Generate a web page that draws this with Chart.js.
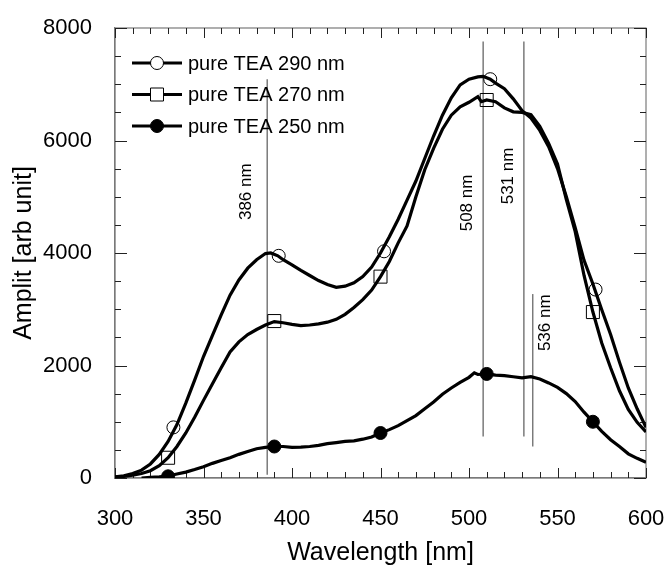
<!DOCTYPE html>
<html>
<head>
<meta charset="utf-8">
<script src="https://cdn.jsdelivr.net/npm/chart.js@4.4.1/dist/chart.umd.min.js"></script>
<style>
  html, body { margin: 0; padding: 0; background: #fff; }
  #wrap { width: 668px; height: 568px; }
</style>
</head>
<body>
<div id="wrap"><canvas id="chart" width="668" height="568"></canvas></div>
<script>
// Wavelengths (nm) and amplitudes
const wl290 = [300, 305, 310, 315, 320, 325, 330, 335, 340, 345, 350, 355, 360, 365, 370, 375, 380, 385, 388, 392,
    395, 400, 405, 410, 415, 420, 425, 430, 435, 440, 445, 450, 455, 460, 465, 470, 475, 480, 485, 490, 495, 500, 505,
    508, 512, 515, 520, 525, 530, 535, 540, 545, 550, 555, 560, 565, 570, 575, 580, 585, 590, 595, 600];
const amp290 = [20, 40, 80, 140, 250, 420, 650, 950, 1330, 1740, 2160, 2530, 2900, 3250, 3520, 3730, 3880, 3990, 4000, 3950,
    3880, 3790, 3690, 3600, 3510, 3440, 3390, 3410, 3470, 3580, 3750, 4000, 4290, 4600, 4940, 5280, 5680, 6080, 6450, 6760, 6990, 7090, 7130,
    7140, 7090, 7020, 6920, 6740, 6530, 6400, 6180, 5890, 5500, 5000, 4450, 3870, 3450, 2990, 2550, 2060, 1600, 1230, 900];

const wl270 = [300, 305, 310, 315, 320, 325, 330, 335, 340, 345, 350, 355, 360, 365, 370, 375, 380, 385, 390, 395,
    400, 405, 410, 415, 420, 425, 430, 435, 440, 445, 450, 455, 460, 465, 470, 475, 480, 485, 490, 495,
    500, 505, 507, 510, 515, 520, 525, 530, 535, 540, 545, 550, 555, 560, 565, 570, 575, 580, 585, 590, 595, 600];
const amp270 = [15, 30, 50, 80, 130, 220, 360, 560, 800, 1080, 1380, 1670, 1960, 2240, 2420, 2550, 2640, 2720, 2780, 2760,
    2730, 2710, 2720, 2740, 2770, 2820, 2910, 3030, 3170, 3340, 3580, 3850, 4180, 4480, 5000, 5480, 5860, 6200, 6450, 6600,
    6680, 6780, 6690, 6720, 6690, 6580, 6510, 6500, 6460, 6250, 5950, 5580, 4950, 4380, 3600, 2950, 2400, 1960, 1550, 1220, 990, 820];

const wl250 = [315, 320, 325, 330, 335, 340, 345, 350, 355, 360, 365, 370, 375, 380, 385, 390, 395, 400, 405, 410,
    415, 420, 425, 430, 435, 440, 445, 450, 455, 460, 465, 470, 475, 480, 485, 490, 495, 500, 503, 505,
    510, 515, 520, 525, 530, 535, 540, 545, 550, 555, 560, 565, 570, 575, 580, 585, 590, 595, 600];
const amp250 = [0, 10, 20, 35, 70, 105, 150, 200, 260, 310, 360, 420, 470, 520, 545, 560, 560, 545, 550, 560,
    580, 610, 630, 650, 660, 690, 730, 800, 860, 930, 1020, 1110, 1230, 1350, 1490, 1600, 1700, 1790, 1870, 1840,
    1850, 1830, 1820, 1800, 1780, 1800, 1760, 1690, 1610, 1500, 1360, 1170, 1000, 830, 680, 560, 430, 350, 280];

// Marker positions on each curve
const mark290X = [333, 392.5, 452, 512, 571.5];
const mark290Y = [900, 3950, 4030, 7090, 3350];
const mark270X = [330, 390, 450, 510, 570];
const mark270Y = [360, 2790, 3580, 6720, 2950];
const mark250X = [330, 390, 450, 510, 570];
const mark250Y = [30, 560, 800, 1850, 1000];

// Vertical peak marks
const peakNm = [386, 508, 531, 536];
const peakFrom = [60, 740, 740, 560];
const peakTo = [7090, 7760, 7760, 3270];
const peakLabels = ['386 nm', '508 nm', '531 nm', '536 nm'];

const seriesNames = ['pure TEA 290 nm', 'pure TEA 270 nm', 'pure TEA 250 nm'];
const xTicks = [300, 350, 400, 450, 500, 550, 600];
const yTicks = [0, 2000, 4000, 6000, 8000];

const FONT = '"Liberation Sans", Arial, sans-serif';

function pairs(xs, ys) {
    return xs.map((x, i) => ({ x: x, y: ys[i] }));
}

const curveStyle = {
    showLine: true, borderColor: '#000', borderWidth: 3.2, pointRadius: 0,
    tension: 0, fill: false, order: 2
};
const markerStyle = { showLine: false, borderColor: '#000', borderWidth: 1, order: 1 };

const datasets = [
    Object.assign({ label: seriesNames[0], data: pairs(wl290, amp290) }, curveStyle),
    Object.assign({ label: seriesNames[1], data: pairs(wl270, amp270) }, curveStyle),
    Object.assign({ label: seriesNames[2], data: pairs(wl250, amp250) }, curveStyle),
    Object.assign({ data: pairs(mark290X, mark290Y), pointStyle: 'circle', pointRadius: 6.5,
        backgroundColor: 'rgba(0,0,0,0)' }, markerStyle),
    Object.assign({ data: pairs(mark270X, mark270Y), pointStyle: 'rect', pointRadius: 9.2,
        backgroundColor: 'rgba(0,0,0,0)' }, markerStyle),
    Object.assign({ data: pairs(mark250X, mark250Y), pointStyle: 'circle', pointRadius: 6.5,
        backgroundColor: '#000' }, markerStyle)
];

peakNm.forEach((nm, i) => {
    datasets.push({
        data: [{ x: nm, y: peakFrom[i] }, { x: nm, y: peakTo[i] }],
        showLine: true, borderColor: '#7a7a7a', borderWidth: 1.5, pointRadius: 0, order: 3
    });
});

// frame on top/right plus inward tick marks on all four sides
const frameTicks = {
    id: 'frameTicks',
    beforeDatasetsDraw(chart) {
        const { ctx, chartArea: a, scales: { x, y } } = chart;
        ctx.save();
        ctx.strokeStyle = '#7a7a7a';
        ctx.lineWidth = 1.2;
        ctx.strokeRect(a.left, a.top, a.right - a.left, a.bottom - a.top);
        ctx.strokeStyle = '#222';
        ctx.lineWidth = 1;
        ctx.beginPath();
        for (let v = 300; v <= 600; v += 10) {
            const px = Math.round(x.getPixelForValue(v)) + 0.5;
            const len = v % 50 === 0 ? 10 : 6;
            ctx.moveTo(px, a.bottom); ctx.lineTo(px, a.bottom - len);
            ctx.moveTo(px, a.top); ctx.lineTo(px, a.top + len);
        }
        for (let v = 0; v <= 8000; v += 500) {
            const py = Math.round(y.getPixelForValue(v)) + 0.5;
            const len = v % 2000 === 0 ? 12 : 6;
            ctx.moveTo(a.left, py); ctx.lineTo(a.left + len, py);
            ctx.moveTo(a.right, py); ctx.lineTo(a.right - len, py);
        }
        ctx.stroke();
        ctx.restore();
    }
};

// rotated labels next to the peak lines
const peakText = {
    id: 'peakText',
    afterDatasetsDraw(chart, args, opts) {
        const { ctx, scales: { x, y } } = chart;
        ctx.save();
        ctx.fillStyle = '#000';
        ctx.font = '17px ' + FONT;
        ctx.textAlign = 'center';
        ctx.textBaseline = 'middle';
        peakLabels.forEach((txt, i) => {
            const px = x.getPixelForValue(peakNm[i]) + opts.dx[i];
            const py = y.getPixelForValue(opts.at[i]);
            ctx.save();
            ctx.translate(px, py);
            ctx.rotate(-Math.PI / 2);
            ctx.fillText(txt, 0, 0);
            ctx.restore();
        });
        ctx.restore();
    }
};

// legend: line with marker, then text
const lineLegend = {
    id: 'lineLegend',
    afterDraw(chart, args, opts) {
        const { ctx } = chart;
        ctx.save();
        seriesNames.forEach((name, i) => {
            const yy = opts.top + i * opts.step;
            ctx.strokeStyle = '#000';
            ctx.lineWidth = 3.2;
            ctx.beginPath();
            ctx.moveTo(opts.left, yy);
            ctx.lineTo(opts.left + 50, yy);
            ctx.stroke();
            const cx = opts.left + 25;
            ctx.lineWidth = 1;
            ctx.beginPath();
            if (i === 1) {
                ctx.rect(cx - 6.5, yy - 6.5, 13, 13);
                ctx.fillStyle = '#fff';
            } else {
                ctx.arc(cx, yy, 6.5, 0, Math.PI * 2);
                ctx.fillStyle = i === 0 ? '#fff' : '#000';
            }
            ctx.fill();
            ctx.stroke();
            ctx.fillStyle = '#000';
            ctx.font = '20px ' + FONT;
            ctx.textAlign = 'left';
            ctx.textBaseline = 'middle';
            ctx.fillText(name, opts.left + 56, yy + 1);
        });
        ctx.restore();
    }
};

new Chart(document.getElementById('chart'), {
    type: 'scatter',
    data: { datasets: datasets },
    plugins: [frameTicks, peakText, lineLegend],
    options: {
        responsive: false,
        animation: false,
        events: [],
        layout: { padding: { top: 28, right: 22, left: 0, bottom: 0 } },
        plugins: {
            legend: { display: false },
            tooltip: { enabled: false },
            peakText: { dx: [-21, -16, -16, 13], at: [5090, 4890, 5370, 2760] },
            lineLegend: { left: 132, top: 63, step: 31.5 }
        },
        scales: {
            x: {
                type: 'linear', min: 300, max: 600,
                afterFit: s => { s.height = 90; s.paddingLeft = 0; s.paddingRight = 0; },
                afterBuildTicks: s => { s.ticks = xTicks.map(v => ({ value: v })); },
                grid: { display: false, drawTicks: false },
                border: { display: true, color: '#7a7a7a', width: 1.2 },
                ticks: { color: '#000', padding: 28, font: { family: FONT, size: 22 }, callback: v => String(v) },
                title: {
                    display: true, text: 'Wavelength [nm]', color: '#000',
                    font: { family: FONT, size: 25, lineHeight: 1.2 }, padding: { top: 0, bottom: 0 }
                }
            },
            y: {
                type: 'linear', min: 0, max: 8000,
                afterFit: s => { s.width = 115; s.paddingTop = 0; s.paddingBottom = 0; },
                afterBuildTicks: s => { s.ticks = yTicks.map(v => ({ value: v })); },
                grid: { display: false, drawTicks: false },
                border: { display: true, color: '#7a7a7a', width: 1.2 },
                ticks: { color: '#000', padding: 23, font: { family: FONT, size: 22 }, callback: v => String(v) },
                title: {
                    display: true, text: 'Amplit [arb unit]', color: '#000',
                    font: { family: FONT, size: 25, lineHeight: 1.2 }, padding: { top: 9, bottom: 0 }
                }
            }
        }
    }
});
</script>
</body>
</html>
